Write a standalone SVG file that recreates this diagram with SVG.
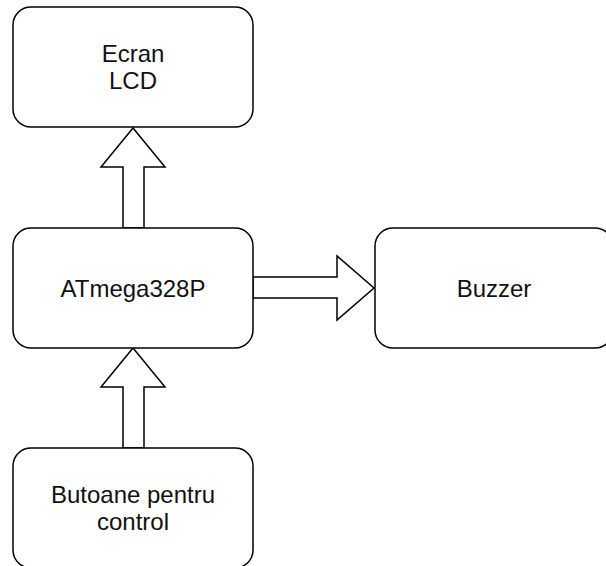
<svg xmlns="http://www.w3.org/2000/svg" width="606" height="566" viewBox="0 0 606 566">
<style>
.box{fill:#fff;stroke:#000;stroke-width:1.5}
.arr{fill:#fff;stroke:#000;stroke-width:1.5;stroke-linejoin:miter}
text{font-family:"Liberation Sans",Arial,sans-serif;font-size:24px;fill:#111;text-anchor:middle}
</style>
<rect width="606" height="566" fill="#fff"/>
<g id="connectors">
<polygon class="arr" points="123,228 123,167 101,167 133,128 165,167 144,167 144,228"/>
<polygon class="arr" points="123,448 123,387 101,387 133,348 165,387 144,387 144,448"/>
<polygon class="arr" points="253,277 337,277 337,256 374,288 337,320 337,298 253,298"/>
</g>
<g id="lcd">
<rect class="box" x="13" y="7" width="240" height="120" rx="18"/>
<text x="133" y="62">Ecran</text>
<text x="133" y="89">LCD</text>
</g>
<g id="atmega">
<rect class="box" x="13" y="228" width="240" height="120" rx="18"/>
<text x="133" y="297">ATmega328P</text>
</g>
<g id="buzzer">
<rect class="box" x="375" y="228" width="238" height="120" rx="18"/>
<text x="494" y="297">Buzzer</text>
</g>
<g id="butoane">
<rect class="box" x="13" y="448" width="240" height="120" rx="18"/>
<text x="133" y="503">Butoane pentru</text>
<text x="133" y="530">control</text>
</g>
</svg>
